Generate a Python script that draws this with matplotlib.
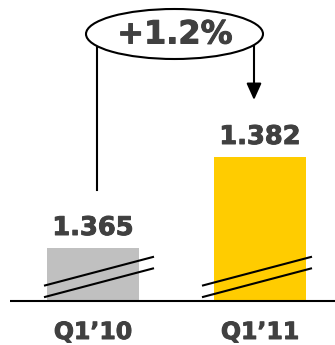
import matplotlib
matplotlib.use("Agg")
import matplotlib.pyplot as plt
from matplotlib.patches import Ellipse
import matplotlib.patheffects as pe

categories = ["Q1\u201910", "Q1\u201911"]
values = [1.365, 1.382]
value_labels = ["1.365", "1.382"]
change_label = "+1.2%"
bar_colors = ["#C0C0C0", "#FFCC00"]
text_color = "#404040"

W, H = 335, 345
fig = plt.figure(figsize=(W / 100, H / 100), dpi=100)
thick = [pe.withStroke(linewidth=0.7, foreground=text_color)]

# main axes (broken value axis)
base_px = 301
ax = fig.add_axes([0, (H - base_px) / H, 1, base_px / H])
ymin = 1.3551
k = 144 / (values[1] - ymin)  # px per unit
ax.set_ylim(ymin, ymin + base_px / k)
ax.set_xlim(-93 / 167, (W - 93) / 167)
ax.axis("off")

xs = list(range(len(values)))
ax.bar(xs, [v - ymin for v in values], bottom=ymin, width=92 / 167,
       color=bar_colors, edgecolor="none")
for x, v, lab, cat in zip(xs, values, value_labels, categories):
    ax.annotate(lab, (x, v), xytext=(0, 7), textcoords="offset pixels",
                ha="center", va="bottom", fontsize=18.5, fontweight="bold",
                color=text_color, path_effects=thick)
    ax.annotate(cat, (x, ymin), xytext=(0, -31), textcoords="offset pixels",
                ha="center", va="center", fontsize=17, fontweight="bold",
                color=text_color, path_effects=thick, annotation_clip=False)

# overlay in pixel coordinates for decorations
ov = fig.add_axes([0, 0, 1, 1], facecolor="none")
ov.set_xlim(0, W)
ov.set_ylim(H, 0)
ov.axis("off")

# baseline
ov.plot([10, W], [base_px, base_px], color="black", lw=1.5, solid_capstyle="butt")

# break marks
for x0, x1 in [(44, 154), (202, 312)]:
    for dy in (0, 11.5):
        ov.plot([x0, x1], [285.7 + dy, 256.7 + dy], color="black", lw=1.5,
                solid_capstyle="butt")

# ellipse with change
ov.add_patch(Ellipse((174.5, 34), 177, 50, facecolor="white",
                     edgecolor="black", lw=1.5, zorder=3))
ov.text(175, 35, change_label, ha="center", va="center", fontsize=23,
        fontweight="bold", color=text_color, zorder=4, path_effects=thick)
ov.plot([97, 97], [44, 190], color="black", lw=1.5, zorder=2)
ov.annotate("", xy=(254, 100), xytext=(254, 44),
            arrowprops=dict(arrowstyle="-|>,head_length=1.0,head_width=0.45",
                            color="black", lw=1.5, shrinkA=0, shrinkB=0),
            zorder=2)

fig.savefig("out.png", dpi=100)
